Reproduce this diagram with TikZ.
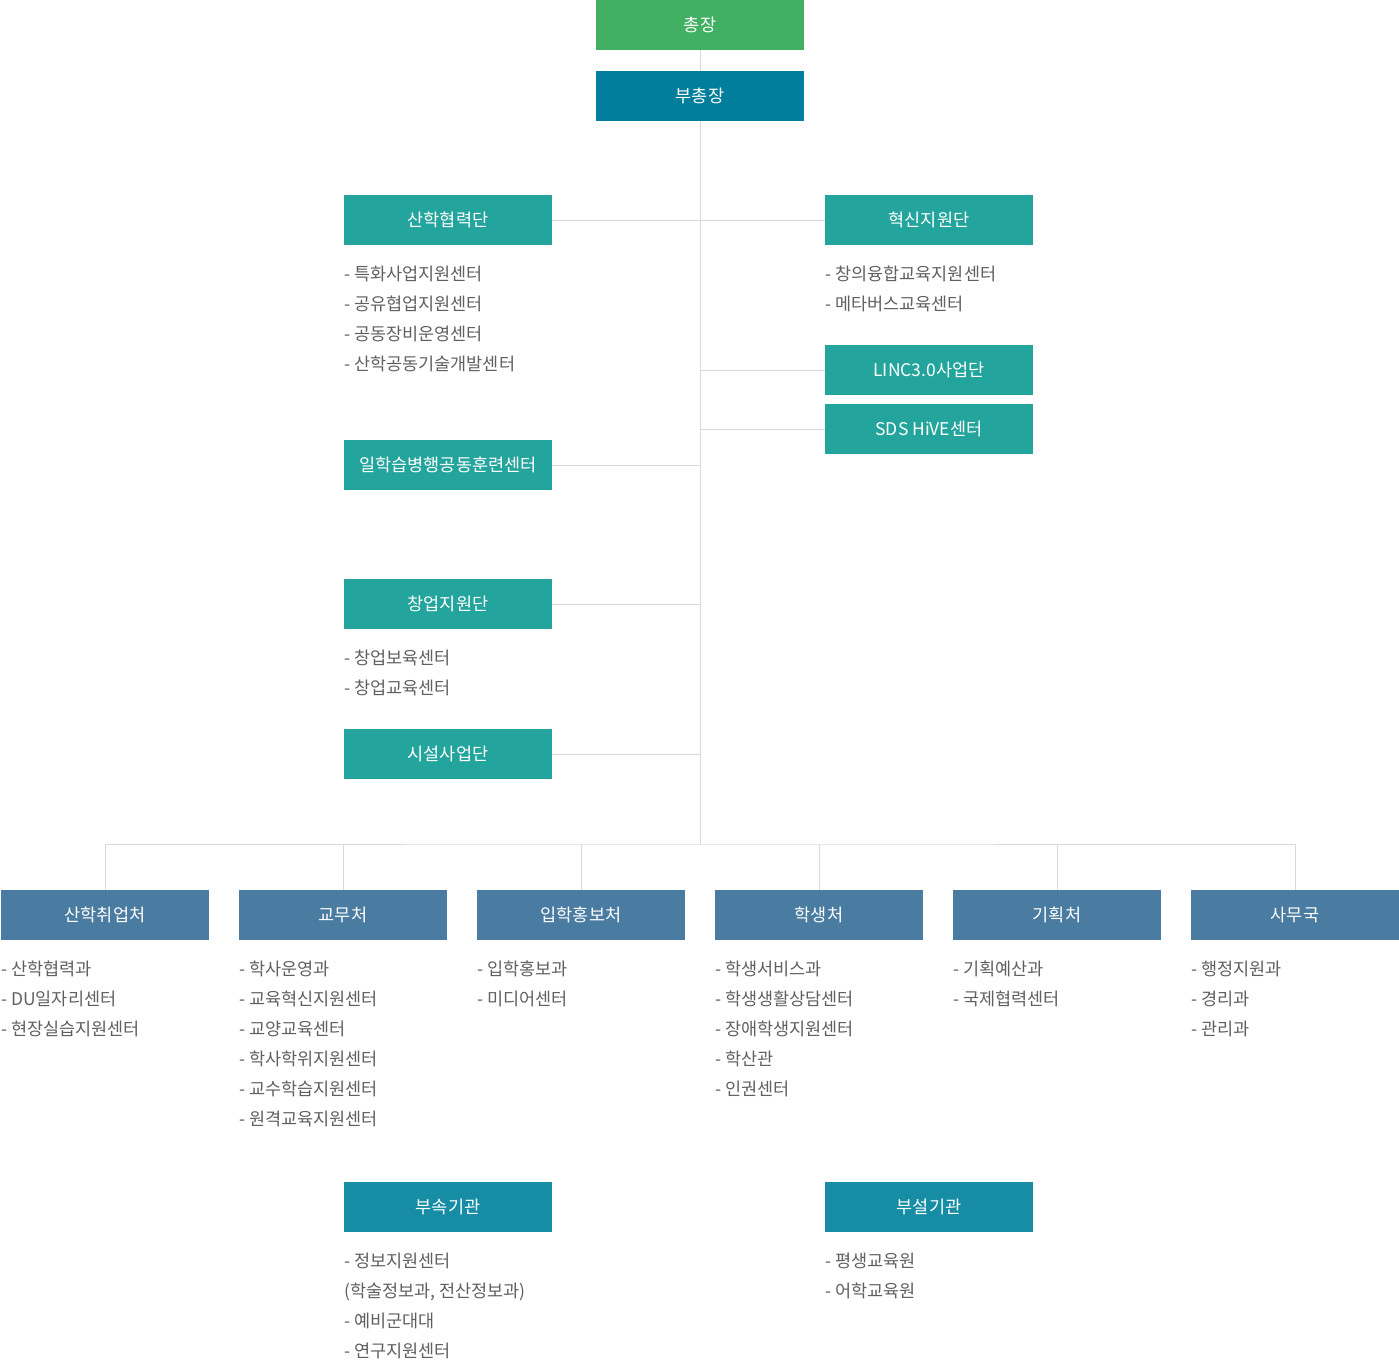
\documentclass[tikz,border=0pt]{standalone}
\usepackage{fontspec}
\setmainfont{Noto Sans CJK KR}
\usepackage{xcolor}
\usepackage{tikz}

\definecolor{topgreen}{HTML}{41B062}
\definecolor{vicecyan}{HTML}{007E9B}
\definecolor{unitteal}{HTML}{23A49C}
\definecolor{deptblue}{HTML}{4A7BA0}
\definecolor{attachcyan}{HTML}{178DA5}
\definecolor{linkgray}{HTML}{D9D9D9}
\definecolor{listgray}{HTML}{606060}

\tikzset{
  box/.style={minimum width=208pt, minimum height=50pt, inner sep=0pt,
    text=white, font=\fontsize{17.5}{20}\selectfont},
  listtext/.style={anchor=north west, inner sep=0pt, align=left,
    text=listgray, font=\fontsize{17.5}{30}\selectfont},
  link/.style={draw=linkgray, line width=1pt}
}

\begin{document}
\begin{tikzpicture}[x=1pt,y=-1pt]
  \useasboundingbox (0,0) rectangle (1399,1359);

  % top
  \node [box, fill=topgreen] (pres) at (700,25) {총장};
  \node [box, fill=vicecyan] (vice) at (700,96) {부총장};
  \coordinate (trunk) at (700,844);

  % upper units
  \node [box, fill=unitteal] (sanhak) at (448,220) {산학협력단};
  \node [box, fill=unitteal] (hyeoksin) at (929,220) {혁신지원단};
  \node [box, fill=unitteal] (linc) at (929,370) {LINC3.0사업단};
  \node [box, fill=unitteal] (hive) at (929,429) {SDS HiVE센터};
  \node [box, fill=unitteal] (ilhak) at (448,465) {일학습병행공동훈련센터};
  \node [box, fill=unitteal] (changup) at (448,604) {창업지원단};
  \node [box, fill=unitteal] (siseol) at (448,754) {시설사업단};

  \node [listtext] (sanhaklist) at (344,266) {- 특화사업지원센터\\- 공유협업지원센터\\- 공동장비운영센터\\- 산학공동기술개발센터};
  \node [listtext] (hyeoksinlist) at (825,266) {- 창의융합교육지원센터\\- 메타버스교육센터};
  \node [listtext] (changuplist) at (344,650) {- 창업보육센터\\- 창업교육센터};

  % departments
  \node [box, fill=deptblue] (dept1) at (105,915) {산학취업처};
  \node [box, fill=deptblue] (dept2) at (343,915) {교무처};
  \node [box, fill=deptblue] (dept3) at (581,915) {입학홍보처};
  \node [box, fill=deptblue] (dept4) at (819,915) {학생처};
  \node [box, fill=deptblue] (dept5) at (1057,915) {기획처};
  \node [box, fill=deptblue] (dept6) at (1295,915) {사무국};

  \node [listtext] (list1) at (1,961) {- 산학협력과\\- DU일자리센터\\- 현장실습지원센터};
  \node [listtext] (list2) at (239,961) {- 학사운영과\\- 교육혁신지원센터\\- 교양교육센터\\- 학사학위지원센터\\- 교수학습지원센터\\- 원격교육지원센터};
  \node [listtext] (list3) at (477,961) {- 입학홍보과\\- 미디어센터};
  \node [listtext] (list4) at (715,961) {- 학생서비스과\\- 학생생활상담센터\\- 장애학생지원센터\\- 학산관\\- 인권센터};
  \node [listtext] (list5) at (953,961) {- 기획예산과\\- 국제협력센터};
  \node [listtext] (list6) at (1191,961) {- 행정지원과\\- 경리과\\- 관리과};

  % attached
  \node [box, fill=attachcyan] (busok) at (448,1207) {부속기관};
  \node [box, fill=attachcyan] (buseol) at (929,1207) {부설기관};

  \node [listtext] (busoklist) at (344,1253) {- 정보지원센터\\(학술정보과, 전산정보과)\\- 예비군대대\\- 연구지원센터};
  \node [listtext] (buseollist) at (825,1253) {- 평생교육원\\- 어학교육원};

  % links
  \draw [link] (pres) -- (vice);
  \draw [link] (vice) -- (trunk);
  \draw [link] (sanhak.east) -- (hyeoksin.west);
  \draw [link] (linc.west) -- (linc.west -| trunk);
  \draw [link] (hive.west) -- (hive.west -| trunk);
  \draw [link] (ilhak.east) -- (ilhak.east -| trunk);
  \draw [link] (changup.east) -- (changup.east -| trunk);
  \draw [link] (siseol.east) -- (siseol.east -| trunk);

  \draw [link] (dept1.north) |- (trunk) -| (dept6.north);
  \draw [link] (dept2.north) -- (dept2.north |- trunk);
  \draw [link] (dept3.north) -- (dept3.north |- trunk);
  \draw [link] (dept4.north) -- (dept4.north |- trunk);
  \draw [link] (dept5.north) -- (dept5.north |- trunk);
\end{tikzpicture}
\end{document}
